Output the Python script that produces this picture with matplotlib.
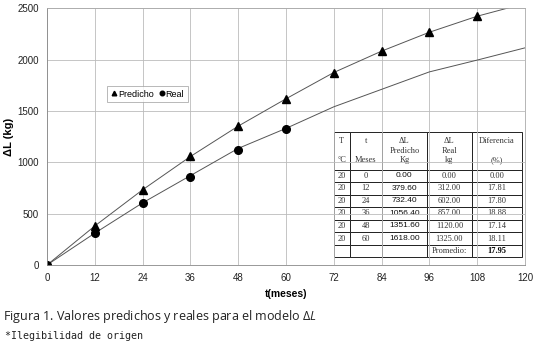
import matplotlib
matplotlib.use('Agg')
import matplotlib.pyplot as plt

# datos
t_curve = [0, 12, 24, 36, 48, 60, 72, 84, 96, 108, 120]
pred_curve = [0, 380, 732, 1056, 1352, 1618, 1874, 2082, 2266, 2422, 2546]
real_curve = [0, 310, 605, 870, 1135, 1330, 1540, 1710, 1880, 1995, 2114]

t_pred = [0, 12, 24, 36, 48, 60, 72, 84, 96, 108]
pred_pts = [0, 379.6, 732.4, 1056.4, 1351.6, 1618, 1874, 2082, 2266, 2422]
t_real = [0, 12, 24, 36, 48, 60]
real_pts = [0, 312, 602, 857, 1120, 1325]

x_ticks = [0, 12, 24, 36, 48, 60, 72, 84, 96, 108, 120]
y_ticks = [0, 500, 1000, 1500, 2000, 2500]

tab_header = ['T\n\n°C', 't\n\nMeses', 'ΔL\nPredicho\nKg', 'ΔL\nReal\nkg', 'Diferencia\n\n(%)']
tab_temp = ['20', '20', '20', '20', '20', '20', '']
tab_t = ['0', '12', '24', '36', '48', '60', '']
tab_pred = ['0.00', '379.60', '732.40', '1056.40', '1351.60', '1618.00', '']
tab_real = ['0.00', '312.00', '602.00', '857.00', '1120.00', '1325.00', 'Promedio:']
tab_dif = ['0.00', '17.81', '17.80', '18.88', '17.14', '18.11', '17.95']

plt.rcParams['mathtext.fontset'] = 'custom'
plt.rcParams['mathtext.it'] = 'Open Sans:italic'
plt.rcParams['mathtext.rm'] = 'Open Sans'

fig = plt.figure(figsize=(5.37, 3.47), dpi=100)
ax = fig.add_axes([0.0875, 0.2363, 0.890, 0.740])

ax.plot(t_curve, pred_curve, color='#555555', lw=0.7)
ax.plot(t_curve, real_curve, color='#555555', lw=0.7)
h1, = ax.plot(t_pred, pred_pts, linestyle='none', marker='^', color='black', markersize=5.5)
h2, = ax.plot(t_real, real_pts, linestyle='none', marker='o', color='black', markersize=5.5)

ax.set_xlim(0, 120)
ax.set_ylim(0, 2500)
ax.set_xticks(x_ticks)
ax.set_yticks(y_ticks)
ax.grid(True, color='#bbbbbb', lw=0.6)
ax.set_axisbelow(True)
for s in ax.spines.values():
    s.set_color('#aaaaaa')
    s.set_linewidth(0.6)
ax.spines['left'].set_color('#888888')
ax.spines['bottom'].set_color('#888888')
ax.tick_params(length=0, labelsize=7, colors='#222222', pad=6)
for lab in ax.get_xticklabels() + ax.get_yticklabels():
    lab.set_fontfamily('Liberation Sans')

ax.set_xlabel('t(meses)', fontsize=7.5, fontweight='bold', family='Liberation Sans', labelpad=4)
ax.set_ylabel('ΔL (kg)', fontsize=8, fontweight='bold', family='Liberation Sans', labelpad=2)

leg = ax.legend([h1, h2], ['Predicho', 'Real'], ncol=2, loc='upper left',
                bbox_to_anchor=(0.117, 0.715), frameon=True,
                fancybox=False, handlelength=0.6, handletextpad=0.15,
                columnspacing=0.6, borderpad=0.4, markerscale=0.6,
                prop={'family': 'Liberation Sans', 'size': 6.5})
leg.get_frame().set_edgecolor('#999999')
leg.get_frame().set_linewidth(0.6)

rows = [list(r) for r in zip(tab_temp, tab_t, tab_pred, tab_real, tab_dif)]
cell_text = [tab_header] + rows
col_w = [16, 32, 45, 45, 50]
tot = float(sum(col_w))
tbl = ax.table(cellText=cell_text, colWidths=[w / tot for w in col_w],
               cellLoc='center', bbox=[0.600, 0.030, 0.394, 0.488])
tbl.auto_set_font_size(False)
for (r, c), cell in tbl.get_celld().items():
    cell.set_facecolor('white')
    cell.set_linewidth(0.7)
    cell.set_edgecolor('#222222')
    txt = cell.get_text()
    txt.set_fontsize(6)
    txt.set_fontfamily('Liberation Serif')
    txt.set_color('#333333')
    if r == 0:
        cell.set_height(cell.get_height() * 3)
        txt.set_linespacing(1.25)
    elif c == 2:
        txt.set_fontfamily('Liberation Sans')
        txt.set_color('#111111')
    if r == 7 and c == 4:
        txt.set_fontweight('bold')
        txt.set_color('black')

fig.text(0.006, 0.089, r'Figura 1. Valores predichos y reales para el modelo $\Delta L$',
         fontsize=9.0, family='Open Sans', color='#222222', va='center')
fig.text(0.009, 0.032, '*Ilegibilidad de origen', fontsize=7.2,
         family='DejaVu Sans Mono', color='#222222', va='center')

fig.savefig('out.png', dpi=100)
